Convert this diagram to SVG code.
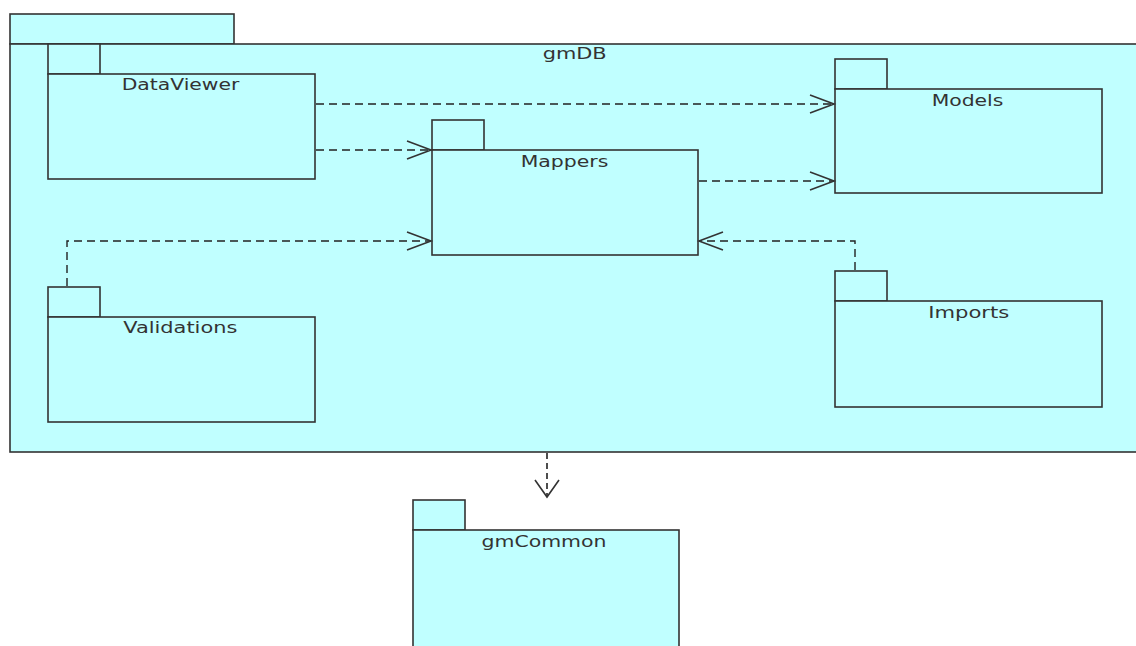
<svg xmlns="http://www.w3.org/2000/svg" width="1136" height="646" viewBox="0 0 1136 646">
<defs>
<style>
.pk{fill:#c0ffff;stroke:#333;stroke-width:1.6}
.lb{font-family:"DejaVu Sans",sans-serif;font-size:16px;fill:#333;text-anchor:middle}
.dep{fill:none;stroke:#222;stroke-width:1.4;stroke-dasharray:8,5}
.depv{fill:none;stroke:#222;stroke-width:1.6;stroke-dasharray:6,4}
</style>
<marker id="open" markerWidth="30" markerHeight="30" refX="25" refY="10" orient="auto" markerUnits="userSpaceOnUse">
<path d="M1,1 L25,10 L1,19" fill="none" stroke="#333" stroke-width="1.6"/>
</marker>
<marker id="openv" markerWidth="30" markerHeight="30" refX="18" refY="13" orient="auto" markerUnits="userSpaceOnUse">
<path d="M1,1 L18,13 L1,25" fill="none" stroke="#333" stroke-width="1.6"/>
</marker>
</defs>
<rect width="1136" height="646" fill="#fff"/>
<g id="gmDB">
<rect class="pk" x="10" y="14" width="224" height="30"/>
<rect class="pk" x="10" y="44" width="1130" height="408"/>
<text class="lb" x="574.7" y="59" textLength="64" lengthAdjust="spacingAndGlyphs">gmDB</text>
</g>
<g id="DataViewer">
<rect class="pk" x="48" y="44" width="52" height="30"/>
<rect class="pk" x="48" y="74" width="267" height="105"/>
<text class="lb" x="180.5" y="90" textLength="117.6" lengthAdjust="spacingAndGlyphs">DataViewer</text>
</g>
<g id="Models">
<rect class="pk" x="835" y="59" width="52" height="30"/>
<rect class="pk" x="835" y="89" width="267" height="104"/>
<text class="lb" x="967.5" y="105.7" textLength="71.7" lengthAdjust="spacingAndGlyphs">Models</text>
</g>
<g id="Mappers">
<rect class="pk" x="432" y="120" width="52" height="30"/>
<rect class="pk" x="432" y="150" width="266" height="105"/>
<text class="lb" x="564.5" y="166.7" textLength="87.6" lengthAdjust="spacingAndGlyphs">Mappers</text>
</g>
<g id="Validations">
<rect class="pk" x="48" y="287" width="52" height="30"/>
<rect class="pk" x="48" y="317" width="267" height="105"/>
<text class="lb" x="180.3" y="333" textLength="114" lengthAdjust="spacingAndGlyphs">Validations</text>
</g>
<g id="Imports">
<rect class="pk" x="835" y="271" width="52" height="30"/>
<rect class="pk" x="835" y="301" width="267" height="106"/>
<text class="lb" x="968.8" y="318" textLength="81" lengthAdjust="spacingAndGlyphs">Imports</text>
</g>
<g id="gmCommon">
<rect class="pk" x="413" y="500" width="52" height="30"/>
<rect class="pk" x="413" y="530" width="266" height="130"/>
<text class="lb" x="544" y="546.7" textLength="125" lengthAdjust="spacingAndGlyphs">gmCommon</text>
</g>
<g id="connectors">
<path class="dep" d="M316,104 L834,104" marker-end="url(#open)"/>
<path class="dep" d="M316,150 L431,150" marker-end="url(#open)"/>
<path class="dep" d="M699,181 L834,181" marker-end="url(#open)"/>
<path class="dep" d="M67,286 L67,241 L431,241" marker-end="url(#open)"/>
<path class="dep" d="M855,270 L855,241 L699,241" marker-end="url(#open)"/>
<path class="depv" d="M547,453 L547,497" marker-end="url(#openv)"/>
</g>
</svg>
